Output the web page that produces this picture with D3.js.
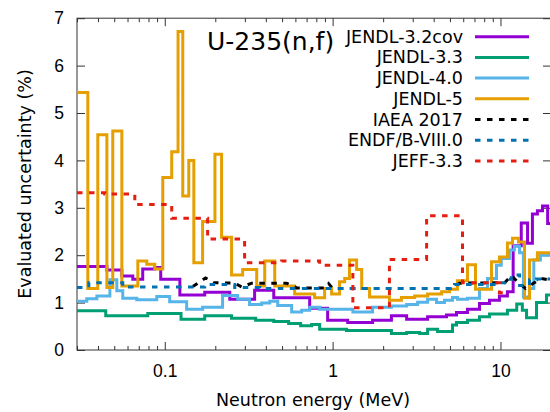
<!DOCTYPE html>
<meta charset="utf-8">
<style>

body {
  margin: 0;
}

svg {
  font-family: "DejaVu Sans", sans-serif;
}

.tick text {
  font-size: 17.5px;
  fill: #000;
}

.tick line {
  stroke: #333;
}

.frame {
  fill: none;
  stroke: #333;
  stroke-width: 1;
}

.curve {
  fill: none;
  stroke-width: 3;
}

</style>
<svg width="550" height="412"></svg>
<script src="https://d3js.org/d3.v7.min.js"></script>
<script>

// bin edges (MeV) and values (%)
var j32Edges = [0.03, 0.0452, 0.0555, 0.0645, 0.0739, 0.0872, 0.0946, 0.123, 0.173, 0.244, 0.343, 0.446, 0.730, 0.934, 1.23, 1.73, 2.24, 2.76, 3.68, 4.77, 5.47, 6.36, 7.50, 8.60, 9.86, 11.0, 11.9, 13.3, 14.5, 15.5, 16.6, 17.8, 19.1, 20];
var j32Values = [1.76, 1.69, 1.56, 1.49, 1.71, 1.74, 1.49, 1.16, 1.22, 1.07, 1.26, 1.10, 0.88, 0.63, 0.58, 0.63, 0.72, 0.65, 0.70, 0.74, 0.79, 0.86, 0.98, 1.05, 1.14, 1.23, 2.20, 2.68, 2.25, 2.87, 2.94, 3.04, 2.67];

var j33Edges = [0.03, 0.0445, 0.0792, 0.125, 0.173, 0.250, 0.348, 0.446, 0.547, 0.645, 0.750, 0.837, 1.21, 2.24, 2.76, 3.30, 3.68, 4.22, 5.18, 5.47, 6.36, 7.50, 8.60, 11.0, 12.5, 13.5, 14.3, 16.4, 18.8, 20];
var j33Values = [0.83, 0.72, 0.77, 0.65, 0.72, 0.67, 0.63, 0.60, 0.56, 0.51, 0.54, 0.44, 0.41, 0.35, 0.37, 0.35, 0.44, 0.39, 0.53, 0.58, 0.63, 0.70, 0.76, 0.84, 0.97, 0.84, 0.68, 1.00, 1.16];

var j40Edges = [0.03, 0.0343, 0.0394, 0.0471, 0.0518, 0.0562, 0.0681, 0.0896, 0.107, 0.135, 0.168, 0.221, 0.272, 0.320, 0.378, 0.422, 0.471, 0.570, 0.654, 0.730, 0.837, 1.32, 1.73, 2.24, 2.76, 3.21, 3.68, 4.16, 4.64, 5.18, 5.54, 6.36, 7.50, 8.37, 9.47, 10.1, 11.3, 12.1, 13.0, 13.7, 14.9, 15.8, 17.3, 20];
var j40Values = [1.03, 1.08, 1.14, 1.48, 1.25, 1.09, 1.06, 1.13, 1.02, 0.86, 0.90, 1.15, 1.07, 0.96, 0.99, 1.03, 0.94, 0.80, 0.84, 0.90, 0.86, 0.80, 0.90, 0.93, 0.96, 1.01, 1.07, 1.00, 1.05, 1.11, 1.07, 1.09, 1.30, 1.51, 1.79, 1.93, 2.11, 2.19, 2.05, 1.12, 1.30, 1.90, 2.00];

var j5Edges = [0.03, 0.0348, 0.0399, 0.0452, 0.0490, 0.0555, 0.0691, 0.0781, 0.0872, 0.0973, 0.110, 0.120, 0.128, 0.139, 0.149, 0.168, 0.199, 0.218, 0.250, 0.291, 0.353, 0.394, 0.452, 0.594, 0.781, 0.896, 0.986, 1.10, 1.18, 1.26, 1.39, 1.49, 1.66, 2.18, 2.57, 3.08, 3.68, 4.46, 4.97, 5.54, 6.36, 7.10, 8.84, 9.86, 11.0, 11.8, 12.8, 13.9, 14.9, 16.6, 20];
var j5Values = [5.43, 1.30, 4.54, 1.32, 4.62, 1.35, 1.88, 1.81, 1.71, 3.64, 4.18, 6.72, 3.25, 4.00, 1.84, 2.71, 4.13, 2.38, 1.58, 1.70, 1.35, 1.88, 1.35, 1.18, 1.10, 1.30, 1.18, 1.44, 1.51, 1.90, 1.70, 1.30, 1.12, 1.05, 1.11, 1.14, 1.18, 1.23, 1.28, 1.46, 1.80, 1.28, 1.86, 1.96, 2.26, 2.36, 2.28, 1.09, 1.90, 2.05];

// IAEA 2017 is drawn as a polyline
var iaeaEnergy = [0.147, 0.175, 0.196, 0.261, 0.287, 0.330, 0.532, 0.611, 0.909, 0.947, 1.0, 5.11, 5.70, 10.6, 11.6, 12.8, 14.1, 15.3, 17.5, 20];
var iaeaValues = [1.34, 1.52, 1.42, 1.41, 1.33, 1.41, 1.41, 1.31, 1.31, 1.40, 1.30, 1.30, 1.41, 1.42, 1.57, 1.42, 1.30, 1.38, 1.51, 1.47];

var endfEdges = [0.03, 0.0353, 0.0562, 0.173, 0.261, 0.368, 5.32, 9.47, 10.6, 11.6, 13.0, 14.9, 16.4, 20];
var endfValues = [1.32, 1.42, 1.33, 1.38, 1.32, 1.30, 1.38, 1.42, 1.49, 1.58, 1.36, 1.48, 1.50];

var jeffEdges = [0.03, 0.0439, 0.0663, 0.110, 0.180, 0.299, 0.497, 0.837, 1.32, 2.18, 3.63, 5.94, 9.86, 10.6];
var jeffValues = [3.32, 3.29, 3.07, 2.78, 2.34, 1.84, 1.88, 1.79, 0.89, 1.91, 2.83, 1.42, 1.21];

var xMajor = [0.1, 1, 10];
var xMinor = [0.03, 0.04, 0.05, 0.06, 0.07, 0.08, 0.09, 0.2, 0.3, 0.4, 0.5, 0.6, 0.7, 0.8, 0.9, 2, 3, 4, 5, 6, 7, 8, 9, 20];
var yTicks = [0, 1, 2, 3, 4, 5, 6, 7];

var svg = d3.select("svg");

var plotLeft = 77, plotRight = 551, plotTop = 18.2, plotBottom = 350;

var x = d3.scaleLog()
    .domain([0.03, 20])
    .range([plotLeft, plotRight]);

var y = d3.scaleLinear()
    .domain([0, 7])
    .range([plotBottom, plotTop]);

function steps(edges, values) {
  var pts = values.map(function(v, i) { return [edges[i], v]; });
  pts.push([edges[edges.length - 1], values[values.length - 1]]);
  return pts;
}

var series = [
  {name: "JENDL-3.2cov", color: "#9400d3", pts: steps(j32Edges, j32Values), step: true},
  {name: "JENDL-3.3", color: "#009e73", pts: steps(j33Edges, j33Values), step: true},
  {name: "JENDL-4.0", color: "#56b4e9", pts: steps(j40Edges, j40Values), step: true},
  {name: "JENDL-5", color: "#e69f00", pts: steps(j5Edges, j5Values), step: true},
  {name: "IAEA 2017", color: "#000000", pts: iaeaEnergy.map(function(e, i) { return [e, iaeaValues[i]]; }), dash: true},
  {name: "ENDF/B-VIII.0", color: "#0072b2", pts: steps(endfEdges, endfValues), step: true, dash: true},
  {name: "JEFF-3.3", color: "#e51e10", pts: steps(jeffEdges, jeffValues), step: true, dash: true}
];

svg.append("clipPath")
    .attr("id", "plot-clip")
  .append("rect")
    .attr("x", plotLeft)
    .attr("y", plotTop)
    .attr("width", plotRight - plotLeft)
    .attr("height", plotBottom - plotTop);

// axes, ticks pointing inward like gnuplot
svg.append("g")
    .attr("transform", "translate(0," + plotBottom + ")")
    .call(d3.axisBottom(x).tickValues(xMajor).tickFormat(d3.format("")).tickSize(-8).tickPadding(14.5));

svg.append("g")
    .attr("transform", "translate(0," + plotBottom + ")")
    .call(d3.axisBottom(x).tickValues(xMinor).tickFormat("").tickSize(-4));

svg.append("g")
    .attr("transform", "translate(0," + plotTop + ")")
    .call(d3.axisTop(x).tickValues(xMajor).tickFormat("").tickSize(-8));

svg.append("g")
    .attr("transform", "translate(0," + plotTop + ")")
    .call(d3.axisTop(x).tickValues(xMinor).tickFormat("").tickSize(-4));

svg.append("g")
    .attr("transform", "translate(" + plotLeft + ",0)")
    .call(d3.axisLeft(y).tickValues(yTicks).tickFormat(d3.format("d")).tickSize(-8).tickPadding(13));

svg.append("g")
    .attr("transform", "translate(" + plotRight + ",0)")
    .call(d3.axisRight(y).tickValues(yTicks).tickFormat("").tickSize(-8));

svg.selectAll(".domain").remove();

svg.append("rect")
    .attr("class", "frame")
    .attr("x", plotLeft)
    .attr("y", plotTop)
    .attr("width", plotRight - plotLeft)
    .attr("height", plotBottom - plotTop);

var line = d3.line()
    .x(function(d) { return x(d[0]); })
    .y(function(d) { return y(d[1]); });

var plot = svg.append("g")
    .attr("clip-path", "url(#plot-clip)");

series.forEach(function(s) {
  plot.append("path")
      .datum(s.pts)
      .attr("class", "curve")
      .attr("stroke", s.color)
      .attr("stroke-dasharray", s.dash ? "5.5,6.5" : null)
      .attr("d", line.curve(s.step ? d3.curveStepAfter : d3.curveLinear));
});

// legend
var legend = svg.append("g");

series.forEach(function(s, i) {
  var ly = 36.7 + i * 20.7;
  legend.append("text")
      .attr("x", 463)
      .attr("y", ly + 6)
      .attr("text-anchor", "end")
      .style("font-size", "17.5px")
      .text(s.name);
  legend.append("line")
      .attr("x1", 475)
      .attr("x2", 529)
      .attr("y1", ly)
      .attr("y2", ly)
      .attr("stroke", s.color)
      .attr("stroke-width", 3)
      .attr("stroke-dasharray", s.dash ? "5.5,6.5" : null);
});

svg.append("text")
    .attr("x", 207)
    .attr("y", 50)
    .style("font-size", "25px")
    .text("U-235(n,f)");

svg.append("text")
    .attr("x", 313)
    .attr("y", 406)
    .attr("text-anchor", "middle")
    .style("font-size", "17.5px")
    .text("Neutron energy (MeV)");

svg.append("text")
    .attr("transform", "translate(31,184) rotate(-90)")
    .attr("text-anchor", "middle")
    .style("font-size", "17.5px")
    .text("Evaluated uncertainty (%)");

</script>
